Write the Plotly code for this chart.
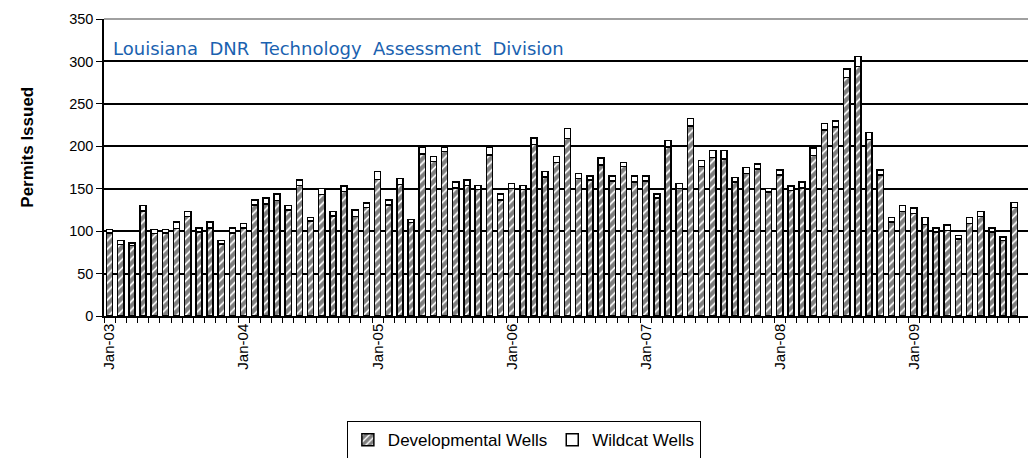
import plotly.graph_objects as go

months = ["Jan", "Feb", "Mar", "Apr", "May", "Jun", "Jul", "Aug", "Sep", "Oct", "Nov", "Dec"]
years = ["03", "04", "05", "06", "07", "08", "09"]
categories = [f"{m}-{y}" for y in years for m in months][:83]  # Jan-03 .. Nov-09

total_permits = [
    102, 89, 86, 130, 102, 102, 111, 123, 104, 111, 89, 104,
    109, 137, 139, 144, 130, 160, 116, 150, 123, 153, 125, 133,
    170, 137, 162, 114, 199, 188, 199, 158, 160, 154, 199, 144,
    156, 154, 210, 170, 188, 221, 168, 165, 186, 165, 181, 165,
    165, 144, 207, 156, 233, 183, 195, 195, 163, 175, 179, 150,
    172, 153, 158, 198, 227, 230, 291, 306, 216, 172, 116, 130,
    127, 116, 104, 107, 95, 116, 123, 104, 93, 134, None,
]
wildcat_wells = [
    4, 5, 3, 6, 5, 4, 8, 6, 5, 7, 4, 6,
    5, 6, 7, 8, 5, 6, 4, 7, 5, 6, 8, 5,
    9, 6, 7, 4, 8, 6, 5, 7, 6, 5, 9, 7,
    6, 5, 8, 6, 7, 12, 6, 5, 8, 6, 5, 7,
    6, 5, 8, 6, 9, 7, 8, 10, 5, 7, 6, 4,
    6, 5, 7, 9, 8, 7, 10, 12, 8, 6, 5, 7,
    6, 8, 5, 6, 4, 7, 6, 5, 4, 6, None,
]
developmental_wells = [None if t is None else t - w for t, w in zip(total_permits, wildcat_wells)]

tick_text = [c if c.startswith("Jan") else "" for c in categories]

fig = go.Figure()
fig.add_trace(go.Bar(
    x=categories, y=developmental_wells, name="Developmental Wells",
    marker=dict(color="white", line=dict(color="black", width=1.5),
                pattern=dict(shape="/", fgcolor="black", bgcolor="white", size=6, solidity=0.7)),
))
fig.add_trace(go.Bar(
    x=categories, y=wildcat_wells, name="Wildcat Wells",
    marker=dict(color="white", line=dict(color="black", width=1.5)),
))

# page body has an 8px margin, so the figure is sized/offset to land on the reference layout
fig.update_layout(
    width=1028, height=450,
    barmode="stack", bargap=0.45,
    margin=dict(l=96, r=5, t=11, b=142, autoexpand=False),
    plot_bgcolor="white", paper_bgcolor="white",
    font=dict(family="Liberation Sans, Arial, sans-serif", color="black"),
    showlegend=True,
    legend=dict(orientation="h", x=0.262, xanchor="left", y=-0.354, yanchor="top",
                bordercolor="black", borderwidth=1, bgcolor="white",
                font=dict(size=17, family="Liberation Sans, Arial, sans-serif"),
                itemwidth=30, traceorder="normal"),
    xaxis=dict(type="category", categoryorder="array", categoryarray=categories,
               tickmode="array", tickvals=categories, ticktext=tick_text,
               tickson="boundaries", ticks="outside", ticklen=5, tickcolor="black",
               tickangle=-90, tickfont=dict(size=15), automargin=False,
               showline=True, linecolor="black", linewidth=1.5,
               showgrid=False, range=[-0.5, 82.5]),
    yaxis=dict(range=[0, 350], dtick=50, ticks="outside", ticklen=6, tickcolor="black",
               tickfont=dict(size=14.5), automargin=False,
               showline=True, linecolor="black", linewidth=1.5,
               showgrid=True, gridcolor="black", gridwidth=1.5, zeroline=False),
)

fig.add_shape(type="line", xref="paper", yref="paper", x0=0, x1=1, y0=1, y1=1,
              line=dict(color="#a0a0a0", width=2), layer="above")
fig.add_shape(type="line", xref="paper", yref="paper", x0=1, x1=1, y0=0, y1=1,
              line=dict(color="#a0a0a0", width=2), layer="above")

fig.add_annotation(text="Louisiana\u00a0 DNR\u00a0 Technology\u00a0 Assessment\u00a0 Division",
                   xref="paper", yref="y", x=0.008, y=300, xanchor="left", yanchor="bottom",
                   showarrow=False, font=dict(family="DejaVu Sans", size=18, color="#1a62b0"))
fig.add_annotation(text="<b>Permits Issued</b>", xref="paper", yref="paper",
                   x=-0.082, y=0.57, xanchor="center", yanchor="middle", textangle=-90,
                   showarrow=False, font=dict(size=17, family="Liberation Sans, Arial, sans-serif"))

fig.write_html("out.html")
